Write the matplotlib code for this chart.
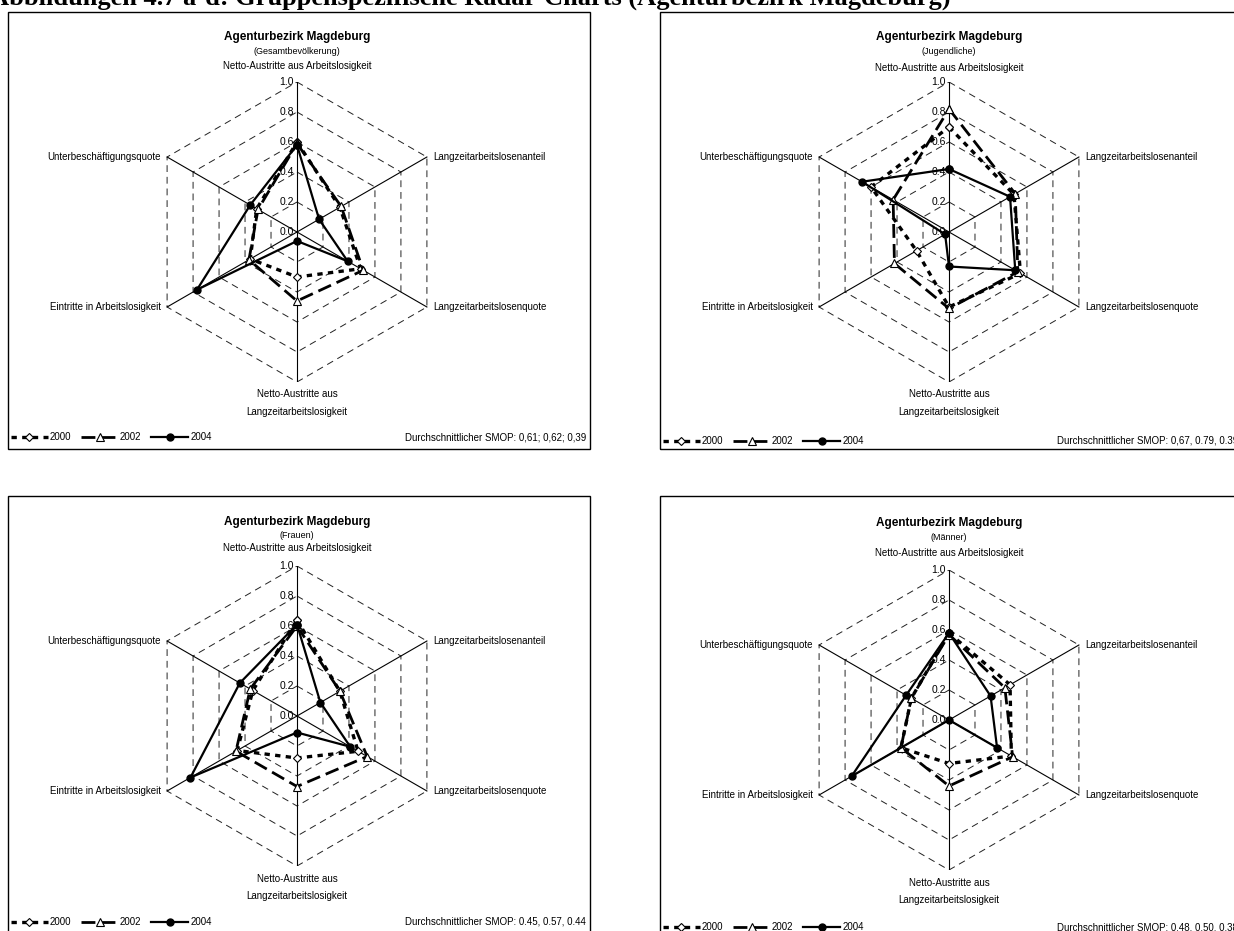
import numpy as np
import matplotlib
matplotlib.use('Agg')
import matplotlib.pyplot as plt
from matplotlib.patches import Rectangle

plt.rcParams['font.family'] = ['Liberation Sans', 'DejaVu Sans']

W, H = 1234, 931

header = 'Abbildungen 4.7 a-d: Gruppenspezifische Radar-Charts (Agenturbezirk Magdeburg)'
chart_title = 'Agenturbezirk Magdeburg'
groups = ['(Gesamtbevölkerung)', '(Jugendliche)', '(Frauen)', '(Männer)']

axis_labels = ['Netto-Austritte aus Arbeitslosigkeit', 'Langzeitarbeitslosenanteil',
               'Langzeitarbeitslosenquote', 'Netto-Austritte aus\nLangzeitarbeitslosigkeit',
               'Eintritte in Arbeitslosigkeit', 'Unterbeschäftigungsquote']
years = ['2000', '2002', '2004']
rticks = [0.0, 0.2, 0.4, 0.6, 0.8, 1.0]

# values clockwise from top axis
gesamt_2000 = [0.60, 0.33, 0.49, 0.30, 0.36, 0.31]
gesamt_2002 = [0.59, 0.34, 0.51, 0.46, 0.37, 0.30]
gesamt_2004 = [0.58, 0.17, 0.39, 0.06, 0.77, 0.36]

jugend_2000 = [0.70, 0.50, 0.55, 0.50, 0.25, 0.60]
jugend_2002 = [0.82, 0.51, 0.53, 0.51, 0.42, 0.43]
jugend_2004 = [0.42, 0.47, 0.51, 0.23, 0.03, 0.67]

frauen_2000 = [0.64, 0.33, 0.47, 0.28, 0.46, 0.34]
frauen_2002 = [0.60, 0.33, 0.54, 0.47, 0.47, 0.36]
frauen_2004 = [0.61, 0.18, 0.41, 0.11, 0.82, 0.44]

maenner_2000 = [0.58, 0.47, 0.48, 0.29, 0.37, 0.29]
maenner_2002 = [0.57, 0.43, 0.49, 0.44, 0.37, 0.29]
maenner_2004 = [0.58, 0.32, 0.37, 0.00, 0.75, 0.33]

smop_texts = ['Durchschnittlicher SMOP: 0,61; 0,62; 0,39',
              'Durchschnittlicher SMOP: 0,67, 0.79, 0.39',
              'Durchschnittlicher SMOP: 0.45, 0.57, 0.44',
              'Durchschnittlicher SMOP: 0.48, 0.50, 0.38']

chart_data = [[gesamt_2000, gesamt_2002, gesamt_2004],
              [jugend_2000, jugend_2002, jugend_2004],
              [frauen_2000, frauen_2002, frauen_2004],
              [maenner_2000, maenner_2002, maenner_2004]]

# layout in pixels: centre, box, text rows
centers = [(297, 232), (949, 232), (297, 716), (949, 720)]
boxes = [(8, 12, 590, 449), (660, 12, 1240, 449), (8, 496, 590, 940), (660, 496, 1240, 940)]
title_y = [(37, 52, 66), (37, 52, 68), (522, 535, 548), (523, 537, 553)]
legend_y = [437, 441, 922, 927]
smop_x = [588, 1240, 588, 1240]
R = 150

styles = [dict(color='black', lw=2.4, ls=(0, (1.6, 1.6)), marker='D', ms=4,
               mfc='white', mec='black', mew=0.8),
          dict(color='black', lw=2.0, ls=(0, (5, 2.2)), marker='^', ms=5.5,
               mfc='white', mec='black', mew=0.8),
          dict(color='black', lw=1.6, ls='-', marker='o', ms=5,
               mfc='black', mec='black')]


def fx(x):
    return x / W


def fy(y):
    return 1 - y / H


fig = plt.figure(figsize=(W / 100, H / 100), dpi=100)

fig.text(fx(-10), fy(5), header, fontfamily='Liberation Serif', fontweight='bold',
         fontsize=19, ha='left', va='baseline')

angles = np.deg2rad(90 - 60 * np.arange(6))
ca = np.append(np.cos(angles), np.cos(angles[0]))
sa = np.append(np.sin(angles), np.sin(angles[0]))

for i, (cx, cy) in enumerate(centers):
    l, t, r, b = boxes[i]
    fig.add_artist(Rectangle((fx(l), fy(b)), (r - l) / W, (b - t) / H,
                             transform=fig.transFigure, fill=False, lw=1.0, ec='black'))

    ax = fig.add_axes([fx(cx - R), fy(cy + R), 2 * R / W, 2 * R / H])
    ax.set_xlim(-1, 1)
    ax.set_ylim(-1, 1)
    ax.axis('off')

    # hexagonal grid
    for rv in rticks[1:]:
        ax.plot(rv * ca, rv * sa, color='#222222', lw=0.7, ls=(0, (7, 5)), zorder=1)
    for a in angles:
        ax.plot([0, np.cos(a)], [0, np.sin(a)], color='black', lw=0.8, zorder=1)
    for rv in rticks:
        ax.text(-0.02, rv, '%.1f' % rv, ha='right', va='center', fontsize=7.5, zorder=2)

    lines = []
    for vals, st, yr in zip(chart_data[i], styles, years):
        v = np.append(vals, vals[0])
        ln, = ax.plot(v * ca, v * sa, label=yr, zorder=3, clip_on=False, **st)
        lines.append(ln)

    # axis labels
    for k in (1, 2):
        ax.text(np.cos(angles[k]) + 0.04, np.sin(angles[k]), axis_labels[k],
                ha='left', va='center', fontsize=7)
    for k in (4, 5):
        ax.text(np.cos(angles[k]) - 0.04, np.sin(angles[k]), axis_labels[k],
                ha='right', va='center', fontsize=7)
    ax.text(0, -1.05, axis_labels[3], ha='center', va='top', fontsize=7, linespacing=1.9)

    t1, t2, t3 = title_y[i]
    fig.text(fx(cx), fy(t1), chart_title, ha='center', va='center', fontsize=8.5,
             fontweight='bold')
    fig.text(fx(cx), fy(t2), groups[i], ha='center', va='center', fontsize=6.5)
    fig.text(fx(cx), fy(t3), axis_labels[0], ha='center', va='center', fontsize=7)

    fig.legend(handles=lines, loc='center left', bbox_to_anchor=(fx(l + 3), fy(legend_y[i])),
               bbox_transform=fig.transFigure, ncol=3, frameon=False, fontsize=7,
               handlelength=3.8, handletextpad=0.2, columnspacing=1.0,
               borderpad=0, borderaxespad=0, numpoints=1)
    fig.text(fx(smop_x[i] - 2), fy(legend_y[i]), smop_texts[i], ha='right', va='center',
             fontsize=7)

fig.savefig('out.png', dpi=100)
